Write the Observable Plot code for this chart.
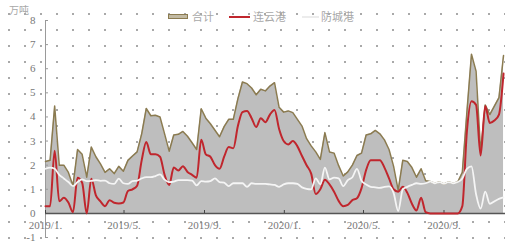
<!DOCTYPE html>
<html><head><meta charset="utf-8">
<script src="https://cdn.jsdelivr.net/npm/d3@7"></script>
<script src="https://cdn.jsdelivr.net/npm/@observablehq/plot@0.6"></script>
<style>
html,body{margin:0;padding:0;background:#fff;}
#wrap{position:relative;width:505px;height:242px;overflow:hidden;
  background-image:radial-gradient(circle at center,#a9a9a9 0,#a9a9a9 0.9px,rgba(255,255,255,0) 1.4px);
  background-size:16px 16px;background-position:1px 6px;}
#wrap svg{position:absolute;left:0;top:0;}
.lg{position:absolute;font-family:"Noto Sans CJK SC",sans-serif;font-size:11px;color:#a8a8a8;line-height:14px;white-space:nowrap;}
.sw{position:absolute;box-sizing:border-box;}
</style>
</head><body>
<div id="wrap">
  <div class="lg" style="left:9px;top:3px;font-size:10px;">万吨</div>
  <div class="sw" style="left:168px;top:14px;width:20px;height:5px;background:#c2baa3;border:1px solid #8b7b50;"></div>
  <div class="lg" style="left:192px;top:9px;">合计</div>
  <div class="sw" style="left:229px;top:15.5px;width:21px;height:2px;background:#c0262d;"></div>
  <div class="lg" style="left:253px;top:9px;">连云港</div>
  <div class="sw" style="left:302px;top:15.5px;width:17px;height:2px;background:#ececec;"></div>
  <div class="lg" style="left:321px;top:9px;">防城港</div>
</div>
<script>
const startDate = "2019-01-01";
const endDate = "2020-12-04";
const total = [2.15,2.2,4.45,2.0,2.0,1.7,1.15,2.65,2.45,1.5,
  2.75,2.35,2.05,1.7,1.85,1.65,1.95,1.75,2.2,2.38,
  2.55,3.3,4.35,4.05,4.07,4.0,3.3,2.58,3.25,3.28,
  3.4,3.2,2.93,2.65,4.34,3.95,3.72,3.45,3.18,3.6,
  3.9,3.9,4.75,5.45,5.38,5.2,4.92,5.15,5.08,5.28,
  5.42,4.4,4.2,4.25,4.18,3.9,3.62,3.1,2.8,2.55,
  2.24,3.35,2.55,2.5,1.98,1.55,1.72,2.0,2.4,2.5,
  3.25,3.3,3.44,3.3,3.05,2.65,1.95,0.95,2.2,2.15,
  1.9,1.5,1.85,1.35,1.32,1.25,1.3,1.22,1.3,1.25,
  1.3,1.7,4.2,6.6,5.9,2.55,4.5,4.1,4.45,4.8,
  6.55];
const lianyungang = [0.3,0.3,2.6,0.5,0.65,0.45,0.05,1.48,1.27,0.0,
  1.44,0.75,0.5,0.3,0.55,0.44,0.41,0.45,0.93,1.0,
  1.15,2.2,2.96,2.45,2.45,2.35,1.6,1.18,1.9,1.78,
  1.96,1.72,1.6,1.48,3.05,2.45,2.35,2.0,1.85,2.35,
  2.75,2.7,3.62,4.2,4.25,3.95,3.58,3.95,3.78,4.1,
  4.29,3.5,3.0,2.86,3.0,2.78,2.38,2.0,1.65,0.8,
  1.0,1.4,1.2,0.9,0.52,0.3,0.35,0.55,0.63,1.05,
  1.8,2.2,2.2,2.2,1.9,1.45,1.0,0.9,1.1,0.85,
  0.4,0.12,0.65,0.05,0,0,0,0,0,0,
  0,0.3,3.4,4.65,4.5,2.4,4.45,3.75,3.85,4.1,
  5.8];
const fangchenggang = [1.85,1.9,1.85,1.6,1.45,1.3,1.13,1.3,1.41,1.34,
  1.35,1.38,1.35,1.36,1.25,1.22,1.44,1.25,1.22,1.34,
  1.36,1.45,1.5,1.5,1.55,1.62,1.4,1.3,1.32,1.38,
  1.38,1.38,1.36,1.16,1.34,1.32,1.34,1.45,1.3,1.28,
  1.13,1.25,1.25,1.25,1.1,1.25,1.22,1.22,1.22,1.2,
  1.18,1.1,1.2,1.25,1.25,1.22,1.08,1.02,1.0,1.45,
  1.2,1.9,1.41,1.48,1.45,1.13,1.38,1.5,1.85,1.35,
  1.2,1.1,1.08,1.06,1.1,1.12,0.85,0.1,1.0,1.1,
  1.18,1.25,1.22,1.25,1.32,1.25,1.3,1.22,1.3,1.25,
  1.3,1.45,1.85,1.95,0.8,0.2,0.9,0.4,0.5,0.6,
  0.66];
const xTickDates = ["2019-01-01","2019-05-01","2019-09-01","2020-01-01","2020-05-01","2020-09-01"];
const xTickLabels = ["2019/1.","2019/5.","2019/9.","2020/1.","2020/5.","2020/9."];
const yTicks = [-1,0,1,2,3,4,5,6,7,8];

const start = new Date(startDate + "T00:00:00Z");
const rows = total.map((t, i) => ({
  date: d3.utcDay.offset(start, 7 * i),
  total: t, lyg: lianyungang[i], fcg: fangchenggang[i]
}));
const xTicks = xTickDates.map(s => new Date(s + "T00:00:00Z"));
const fmtX = d => xTickLabels[xTicks.findIndex(t => +t === +d)];

const chart = Plot.plot({
  width: 505, height: 242,
  marginLeft: 45, marginRight: 0, marginTop: 20, marginBottom: 5,
  style: {background: "transparent", fontFamily: "'Liberation Serif', serif", fontSize: "11px", color: "#777", overflow: "visible"},
  x: {type: "utc", domain: [start, new Date(endDate + "T00:00:00Z")], label: null},
  y: {domain: [-1, 8], label: null},
  marks: [
    Plot.areaY(rows, {x: "date", y1: 0, y2: "total", fill: "#bebebe"}),
    Plot.ruleX([start], {y1: -1, y2: 8, stroke: "#9a9a9a", strokeWidth: 1}),
    Plot.axisY({ticks: yTicks, tickSize: 0, tickPadding: 10, tickFormat: d => String(d), color: "#777", label: null}),
    Plot.axisY({ticks: yTicks, tickSize: 3, dx: 3, tickFormat: () => "", color: "#999", label: null}),
    Plot.ruleY([0], {stroke: "#555", strokeWidth: 1.5}),
    Plot.axisX({ticks: xTicks, tickSize: 3, dy: -27, tickFormat: () => "", color: "#444", label: null}),
    Plot.axisX({ticks: xTicks, tickSize: 0, tickPadding: 0, dy: -16, tickFormat: fmtX, color: "#777", label: null}),
    Plot.lineY(rows, {x: "date", y: "total", stroke: "#8b7b50", strokeWidth: 1.5}),
    Plot.lineY(rows, {x: "date", y: "lyg", stroke: "#c0262d", strokeWidth: 2, curve: "monotone-x"}),
    Plot.lineY(rows, {x: "date", y: "fcg", stroke: "#f5f5f5", strokeWidth: 1.8, curve: "monotone-x"})
  ]
});
document.getElementById("wrap").prepend(chart);
</script>
</body></html>
